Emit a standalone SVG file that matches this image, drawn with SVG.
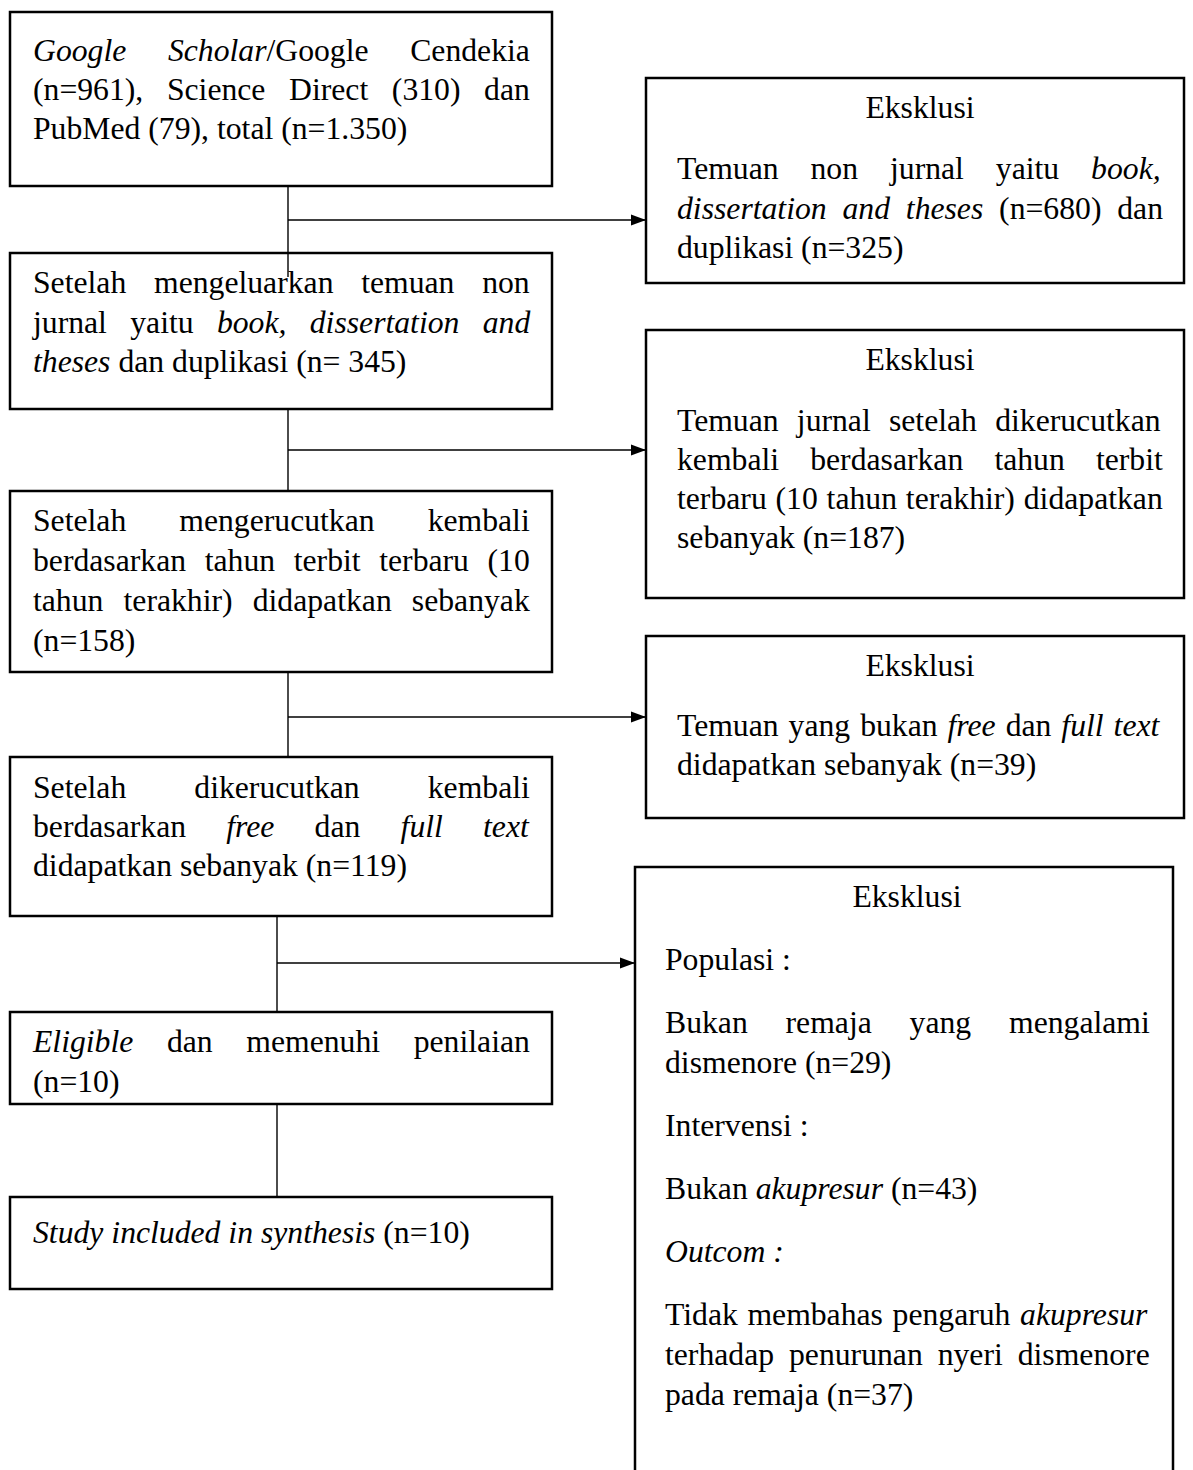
<svg xmlns="http://www.w3.org/2000/svg" width="1193" height="1470" viewBox="0 0 1193 1470">
<style>
  .box { fill: #ffffff; stroke: #000000; stroke-width: 2.5; }
  .t { font-family: "Liberation Serif", "Times New Roman", serif; font-size: 31.7px; fill: #000000; }
  .c { text-anchor: middle; }
  .i { font-style: italic; }
  .conn { fill: none; stroke: #000000; stroke-width: 1.4; }
</style>
<defs>
  <marker id="arrow" markerUnits="userSpaceOnUse" markerWidth="16" markerHeight="12" refX="15" refY="6" orient="auto">
    <path d="M0,0.5 L15,6 L0,11.5 Z" fill="#000000"/>
  </marker>
</defs>
<rect width="1193" height="1470" fill="#ffffff"/>

<g id="connectors">
  <line class="conn" x1="288" y1="186" x2="288" y2="253"/>
  <line class="conn" x1="288" y1="220" x2="646" y2="220" marker-end="url(#arrow)"/>
  <line class="conn" x1="288" y1="409" x2="288" y2="491"/>
  <line class="conn" x1="288" y1="450" x2="646" y2="450" marker-end="url(#arrow)"/>
  <line class="conn" x1="288" y1="672" x2="288" y2="757"/>
  <line class="conn" x1="288" y1="717" x2="646" y2="717" marker-end="url(#arrow)"/>
  <line class="conn" x1="277" y1="916" x2="277" y2="1012"/>
  <line class="conn" x1="277" y1="963" x2="635" y2="963" marker-end="url(#arrow)"/>
  <line class="conn" x1="277" y1="1104" x2="277" y2="1197"/>
</g>

<g id="nodeA">
  <rect class="box" x="10" y="12" width="542" height="174"/>
  <text class="t" x="33" y="61" word-spacing="33.7"><tspan class="i">Google Scholar</tspan>/Google Cendekia</text>
  <text class="t" x="33" y="100" word-spacing="15.7">(n=961), Science Direct (310) dan</text>
  <text class="t" x="33" y="139">PubMed (79), total (n=1.350)</text>
</g>

<g id="nodeB">
  <rect class="box" x="10" y="253" width="542" height="156"/>
  <line class="conn" x1="288" y1="253" x2="288" y2="277"/>
  <text class="t" x="33" y="293" word-spacing="19.8">Setelah mengeluarkan temuan non</text>
  <text class="t" x="33" y="333" word-spacing="15.4">jurnal yaitu <tspan class="i">book, dissertation and</tspan></text>
  <text class="t" x="33" y="372"><tspan class="i">theses</tspan> dan duplikasi (n= 345)</text>
</g>

<g id="nodeC">
  <rect class="box" x="10" y="491" width="542" height="181"/>
  <text class="t" x="33" y="531" word-spacing="45.1">Setelah mengerucutkan kembali</text>
  <text class="t" x="33" y="571" word-spacing="10.7">berdasarkan tahun terbit terbaru (10</text>
  <text class="t" x="33" y="611" word-spacing="12.2">tahun terakhir) didapatkan sebanyak</text>
  <text class="t" x="33" y="651">(n=158)</text>
</g>

<g id="nodeD">
  <rect class="box" x="10" y="757" width="542" height="159"/>
  <text class="t" x="33" y="798" word-spacing="60.1">Setelah dikerucutkan kembali</text>
  <text class="t" x="33" y="837" word-spacing="32.3">berdasarkan <tspan class="i">free</tspan> dan <tspan class="i">full text</tspan></text>
  <text class="t" x="33" y="876">didapatkan sebanyak (n=119)</text>
</g>

<g id="nodeE">
  <rect class="box" x="10" y="1012" width="542" height="92"/>
  <text class="t" x="33" y="1052" word-spacing="25.7"><tspan class="i">Eligible</tspan> dan memenuhi penilaian</text>
  <text class="t" x="33" y="1092">(n=10)</text>
</g>

<g id="nodeF">
  <rect class="box" x="10" y="1197" width="542" height="92"/>
  <text class="t" x="33" y="1243"><tspan class="i">Study included in synthesis</tspan> (n=10)</text>
</g>

<g id="excl1">
  <rect class="box" x="646" y="78" width="538" height="205"/>
  <text class="t c" x="920" y="118">Eksklusi</text>
  <text class="t" x="677" y="179" word-spacing="24">Temuan non jurnal yaitu <tspan class="i">book,</tspan></text>
  <text class="t" x="677" y="219" word-spacing="7.9"><tspan class="i">dissertation and theses</tspan> (n=680) dan</text>
  <text class="t" x="677" y="258">duplikasi (n=325)</text>
</g>

<g id="excl2">
  <rect class="box" x="646" y="330" width="538" height="268"/>
  <text class="t c" x="920" y="370">Eksklusi</text>
  <text class="t" x="677" y="431" word-spacing="10.3">Temuan jurnal setelah dikerucutkan</text>
  <text class="t" x="677" y="470" word-spacing="23.2">kembali berdasarkan tahun terbit</text>
  <text class="t" x="677" y="509" word-spacing="0.9">terbaru (10 tahun terakhir) didapatkan</text>
  <text class="t" x="677" y="548">sebanyak (n=187)</text>
</g>

<g id="excl3">
  <rect class="box" x="646" y="636" width="538" height="182"/>
  <text class="t c" x="920" y="676">Eksklusi</text>
  <text class="t" x="677" y="736" word-spacing="2.05">Temuan yang bukan <tspan class="i">free</tspan> dan <tspan class="i">full text</tspan></text>
  <text class="t" x="677" y="775">didapatkan sebanyak (n=39)</text>
</g>

<g id="excl4">
  <path class="box" d="M635,1480 L635,867 L1173,867 L1173,1480"/>
  <text class="t c" x="907" y="907">Eksklusi</text>
  <text class="t" x="665" y="970">Populasi :</text>
  <text class="t" x="665" y="1033" word-spacing="29.9">Bukan remaja yang mengalami</text>
  <text class="t" x="665" y="1073">dismenore (n=29)</text>
  <text class="t" x="665" y="1136">Intervensi :</text>
  <text class="t" x="665" y="1199">Bukan <tspan class="i">akupresur</tspan> (n=43)</text>
  <text class="t i" x="665" y="1262">Outcom :</text>
  <text class="t" x="665" y="1325" word-spacing="1.7">Tidak membahas pengaruh <tspan class="i">akupresur</tspan></text>
  <text class="t" x="665" y="1365" word-spacing="7">terhadap penurunan nyeri dismenore</text>
  <text class="t" x="665" y="1405">pada remaja (n=37)</text>
</g>
</svg>
